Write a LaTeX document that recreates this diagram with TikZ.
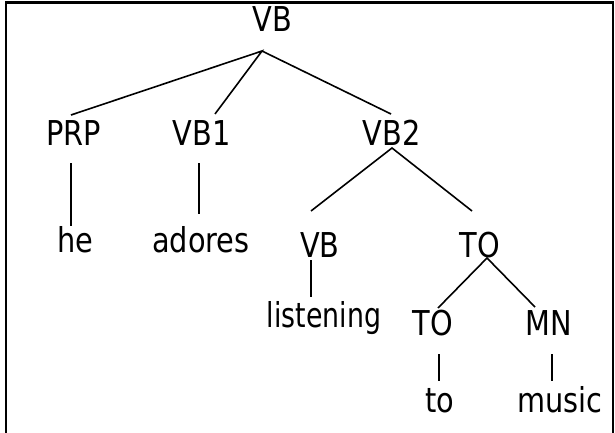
\documentclass[tikz,border=0pt]{standalone}
\usepackage{fontspec}
\setmainfont{DejaVu Sans Condensed}
\newcommand\tlab[1]{\scalebox{1}[1.07]{#1}}
\begin{document}
\begin{tikzpicture}[x=1pt,y=-1pt,
  lab/.style={anchor=base,inner sep=0pt,font=\fontsize{32}{38}\selectfont},
  edge/.style={line width=1.6pt,black}]
\useasboundingbox (0,0) rectangle (615,433);
\draw[line width=2.4pt] (6,433) -- (6,2.5) -- (613,2.5) -- (613,433);
% nodes
\node[lab] (vb0) at (272.5,32) {\tlab{VB}};
\node[lab] (prp) at (73.5,145) {\tlab{PRP}};
\node[lab] (vb1) at (201.5,145) {\tlab{VB1}};
\node[lab] (vb2) at (391.5,145) {\tlab{VB2}};
\node[lab] (he) at (75,252) {\tlab{he}};
\node[lab] (adores) at (201,252) {\tlab{adores}};
\node[lab] (vbl) at (320,257) {\tlab{VB}};
\node[lab] (tom) at (480,257) {\tlab{TO}};
\node[lab] (listening) at (324,327) {\scalebox{0.93}[1.07]{listening}};
\node[lab] (tol) at (433,335) {\tlab{TO}};
\node[lab] (mn) at (549,335) {\tlab{MN}};
\node[lab] (to) at (440,412) {\tlab{to}};
\node[lab] (music) at (560,412) {\tlab{music}};
% connectors
\draw[edge] ([shift={(-2.5,-30)}]prp.base) -- ([shift={(-10.5,19)}]vb0.base) -- ([shift={(13.5,-31)}]vb1.base);
\draw[edge] ([shift={(-10.5,19)}]vb0.base) -- ([shift={(-0.5,-31)}]vb2.base);
\draw[edge] ([shift={(-2.5,18)}]prp.base) -- ([shift={(-4,-26)}]he.base);
\draw[edge] ([shift={(-2.5,18)}]vb1.base) -- ([shift={(-2,-38)}]adores.base);
\draw[edge] ([shift={(-9,-46)}]vbl.base) -- ([shift={(0.5,3)}]vb2.base) -- ([shift={(-8,-46)}]tom.base);
\draw[edge] ([shift={(-9,3)}]vbl.base) -- ([shift={(-13,-30)}]listening.base);
\draw[edge] ([shift={(5,-27)}]tol.base) -- ([shift={(7,1)}]tom.base) -- ([shift={(-14,-28)}]mn.base);
\draw[edge] ([shift={(6,19)}]tol.base) -- ([shift={(-1,-31)}]to.base);
\draw[edge] ([shift={(3,19)}]mn.base) -- ([shift={(-8,-31)}]music.base);
\end{tikzpicture}
\end{document}
